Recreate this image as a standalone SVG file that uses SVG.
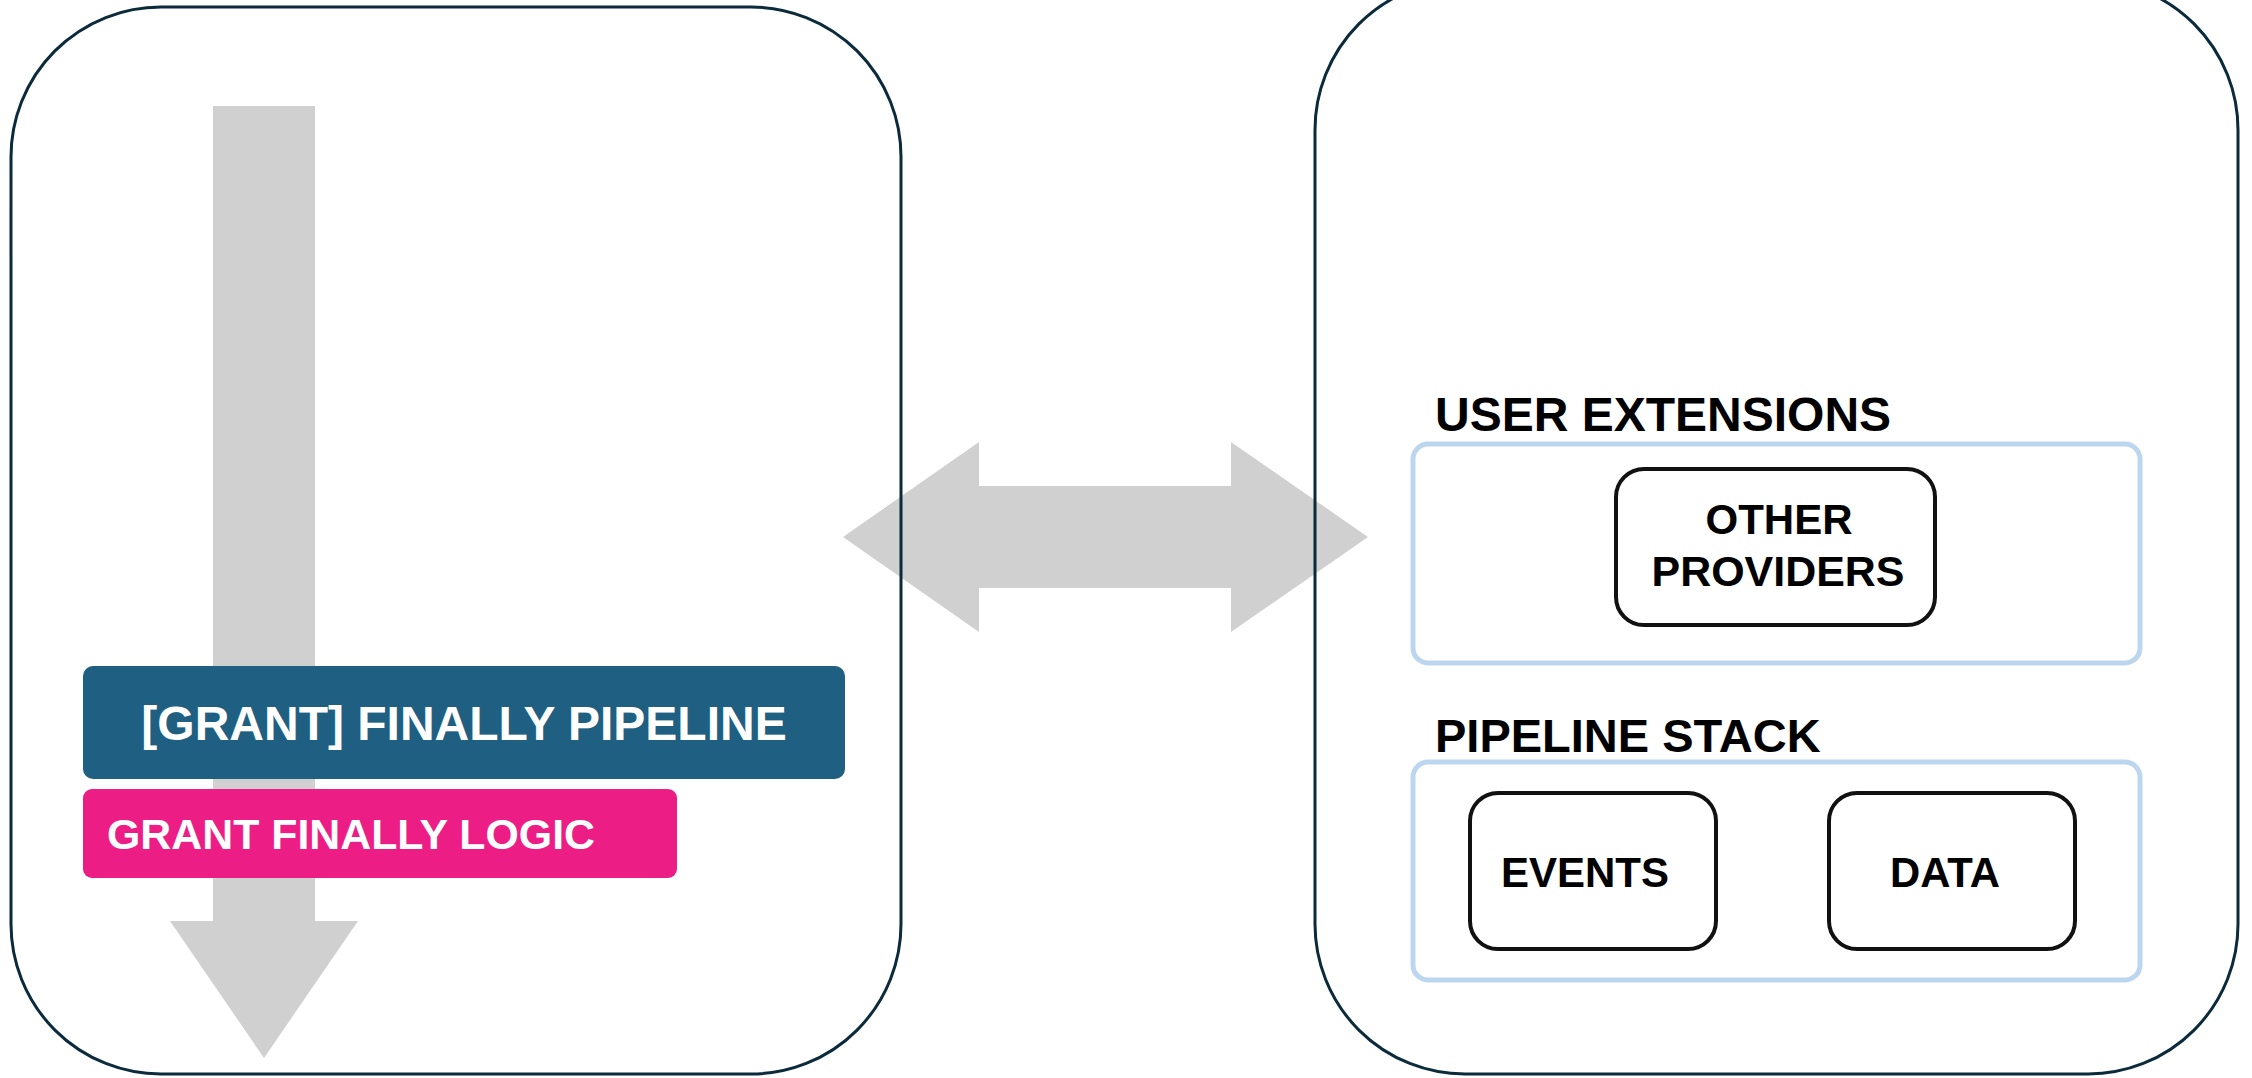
<svg xmlns="http://www.w3.org/2000/svg" width="2252" height="1078" viewBox="0 0 2252 1078">
<style>
.container{fill:none;stroke:#0b2a3c;stroke-width:3}
.group{fill:none;stroke:#bcd6f0;stroke-width:5}
.node{fill:#ffffff;stroke:#111111;stroke-width:4}
.flow{fill:#d0d0d0}
text{font-family:"Liberation Sans",Arial,Helvetica,sans-serif;font-weight:bold}
.lbl{fill:#000000}
.wht{fill:#ffffff}
</style>
<rect width="2252" height="1078" fill="#ffffff"/>
<g id="connectors">
<polygon class="flow" points="213,106 315,106 315,921 358,921 264,1058 170,921 213,921"/>
<polygon class="flow" points="843,537 979,442 979,486 1231,486 1231,442 1368,537 1231,632 1231,588 979,588 979,632"/>
</g>
<g id="left-container">
<rect class="container" x="11" y="7" width="890" height="1067" rx="150" ry="150"/>
</g>
<g id="right-container">
<rect class="container" x="1315" y="-20" width="923" height="1094" rx="150" ry="150"/>
</g>
<g id="grant-finally-pipeline">
<rect x="83" y="666" width="762" height="113" rx="10" ry="10" fill="#1f5f82"/>
<text class="wht" x="464" y="740" font-size="48" text-anchor="middle">[GRANT] FINALLY PIPELINE</text>
</g>
<g id="grant-finally-logic">
<rect x="83" y="789" width="594" height="89" rx="9" ry="9" fill="#ec1e86"/>
<text class="wht" x="107" y="849" font-size="43" textLength="488" lengthAdjust="spacingAndGlyphs">GRANT FINALLY LOGIC</text>
</g>
<g id="user-extensions">
<text class="lbl" x="1435" y="431" font-size="48">USER EXTENSIONS</text>
<rect class="group" x="1413" y="444" width="727" height="219" rx="15" ry="15"/>
</g>
<g id="other-providers">
<rect class="node" x="1616" y="469" width="319" height="156" rx="28" ry="28"/>
<text class="lbl" x="1779" y="534" font-size="42" text-anchor="middle">OTHER</text>
<text class="lbl" x="1778" y="586" font-size="42" text-anchor="middle" textLength="253" lengthAdjust="spacingAndGlyphs">PROVIDERS</text>
</g>
<g id="pipeline-stack">
<text class="lbl" x="1435" y="752" font-size="47">PIPELINE STACK</text>
<rect class="group" x="1413" y="762" width="727" height="218" rx="15" ry="15"/>
</g>
<g id="events">
<rect class="node" x="1470" y="793" width="246" height="156" rx="28" ry="28"/>
<text class="lbl" x="1585" y="887" font-size="42" text-anchor="middle">EVENTS</text>
</g>
<g id="data">
<rect class="node" x="1829" y="793" width="246" height="156" rx="28" ry="28"/>
<text class="lbl" x="1945" y="887" font-size="42" text-anchor="middle" textLength="110" lengthAdjust="spacingAndGlyphs">DATA</text>
</g>
</svg>
